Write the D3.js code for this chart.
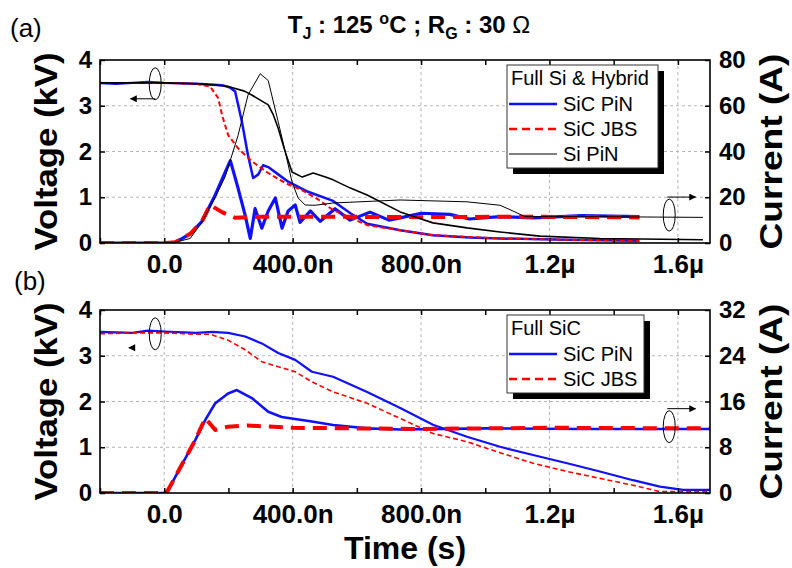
<!DOCTYPE html>
<html>
<head>
<meta charset="utf-8">
<script src="https://cdn.jsdelivr.net/npm/d3@7"></script>
<style>
  body { margin: 0; background: #fff; }
  svg { display: block; }
  text { font-family: "Liberation Sans", Arial, sans-serif; }
</style>
</head>
<body>
<div id="chart"></div>
<script>
// time in ns, voltage in kV, current in A
const timeTicks = [-200, 0, 200, 400, 600, 800, 1000, 1200, 1400, 1600];
const timeLabelValues = [0, 400, 800, 1200, 1600];
const timeLabels = ['0.0', '400.0n', '800.0n', '1.2\u00b5', '1.6\u00b5'];
const voltTicks = [0, 1, 2, 3, 4];
const currTicksA = [0, 20, 40, 60, 80];
const currTicksB = [0, 8, 16, 24, 32];

// (a) Full Si & Hybrid
const aSicPinV = [[-200,3.5],[-150,3.48],[-100,3.5],[-50,3.52],[0,3.5],[100,3.48],[180,3.45],[205,3.4],[221,3.31],[242,2.65],[261,1.92],[277,1.42],[293,1.5],[308,1.7],[324,1.66],[355,1.5],[386,1.34],[448,1.12],[526,0.92],[580,0.65],[632,0.42],[735,0.28],[837,0.17],[950,0.12],[1046,0.1],[1250,0.07],[1480,0.05]];
const aSicPinI = [[-200,0],[0,0],[34,0.3],[44,1],[81,4],[117,9.3],[159,21],[190,31],[206,36],[230,24],[252,12.2],[268,2],[283,15],[304,6.5],[324,14],[346,19.7],[367,6.5],[386,14],[408,16.6],[423,9],[455,14],[486,9.5],[532,15],[579,10],[641,13.5],[700,10],[735,11],[800,13],[890,12.5],[950,10.5],[1046,11.5],[1150,11],[1300,12],[1480,11.5]];
const aSicJbsV = [[-200,3.5],[0,3.5],[100,3.48],[143,3.42],[168,3.17],[180,2.8],[199,2.36],[230,2.07],[274,1.78],[324,1.53],[377,1.31],[430,1.15],[480,0.95],[526,0.72],[632,0.39],[735,0.28],[837,0.17],[1046,0.1],[1250,0.07],[1480,0.05]];
const aSicJbsI = [[-200,0],[0,0],[34,0.3],[81,4],[117,9.3],[143,16.6],[180,13.5],[221,11],[300,11.5],[500,11.5],[800,11.3],[1100,11.5],[1480,11.2]];
const aSiPinV = [[-200,3.5],[0,3.5],[100,3.48],[150,3.46],[199,3.42],[250,3.32],[274,3.23],[324,3.02],[340,2.8],[355,2.51],[377,1.99],[398,1.55],[430,1.44],[464,1.53],[500,1.45],[526,1.38],[580,1.2],[632,1.05],[735,0.68],[837,0.44],[943,0.33],[1046,0.24],[1170,0.15],[1357,0.1],[1678,0.07]];
const aSiPinI = [[-200,0],[0,0],[34,0.3],[81,2],[117,9],[159,20],[190,29],[230,47],[261,64.7],[299,74],[324,71],[355,53],[377,40],[398,26.7],[417,19.7],[439,16.6],[470,16.5],[526,17.5],[735,18.8],[943,18],[1046,16.5],[1086,14],[1124,11.5],[1357,11.5],[1678,11.2]];

// (b) Full SiC
const bSicPinV = [[-200,3.52],[-100,3.5],[-50,3.55],[0,3.53],[100,3.5],[150,3.52],[199,3.5],[252,3.42],[304,3.27],[355,3.06],[408,2.91],[460,2.65],[526,2.54],[632,2.21],[735,1.86],[837,1.49],[943,1.23],[1046,1.01],[1149,0.83],[1255,0.65],[1357,0.47],[1460,0.28],[1544,0.14],[1616,0.07],[1700,0.07]];
const bSicPinI = [[-200,0],[0,0],[10,0.3],[97,9.3],[128,12.8],[159,15.7],[199,17.4],[226,18],[273,16.6],[324,14.2],[366,13.3],[460,12.5],[526,11.9],[632,11.3],[735,11.1],[1000,11.3],[1300,11.2],[1700,11.2]];
const bSicJbsV = [[-200,3.48],[-100,3.5],[0,3.5],[100,3.47],[143,3.47],[199,3.34],[252,3.13],[304,2.87],[355,2.76],[408,2.65],[460,2.43],[526,2.21],[632,1.96],[735,1.63],[837,1.3],[943,1.12],[1046,0.88],[1149,0.65],[1255,0.47],[1357,0.32],[1460,0.17],[1544,0.03],[1700,0.03]];
const bSicJbsI = [[-200,0],[0,0],[10,0.3],[97,9.3],[128,13.1],[159,11],[199,11.6],[260,11.8],[400,11.4],[800,11.2],[1200,11.4],[1700,11.3]];

const blue = '#1010ff', red = '#ff0000';

const svg = d3.select('#chart').append('svg')
    .attr('width', 792)
    .attr('height', 568);

const x = d3.scaleLinear().domain([-200, 1700]).range([100, 710]);

const panels = [
  { id: 'a', top: 60, bottom: 243, iMax: 80, iTicks: currTicksA, iMark: 12.2,
    title: 'Full Si & Hybrid',
    series: [
      { data: aSicPinV, axis: 'v', color: blue, width: 2.5 },
      { data: aSicPinI, axis: 'i', color: blue, width: 3.2 },
      { data: aSicJbsV, axis: 'v', color: red, width: 2, dash: '5,3' },
      { data: aSicJbsI, axis: 'i', color: red, width: 4, dash: '14,8' },
      { data: aSiPinV, axis: 'v', color: '#000', width: 1.6 },
      { data: aSiPinI, axis: 'i', color: '#000', width: 1 }
    ],
    legend: [
      { name: 'SiC PiN', color: blue, width: 2.5 },
      { name: 'SiC JBS', color: red, width: 2.5, dash: '8,5' },
      { name: 'Si PiN', color: '#000', width: 1.2 }
    ] },
  { id: 'b', top: 310, bottom: 493, iMax: 32, iTicks: currTicksB, iMark: 11.6,
    title: 'Full SiC',
    series: [
      { data: bSicPinV, axis: 'v', color: blue, width: 2.2 },
      { data: bSicPinI, axis: 'i', color: blue, width: 2.6 },
      { data: bSicJbsV, axis: 'v', color: red, width: 1.6, dash: '5,3' },
      { data: bSicJbsI, axis: 'i', color: red, width: 4, dash: '14,8' }
    ],
    legend: [
      { name: 'SiC PiN', color: blue, width: 2.5 },
      { name: 'SiC JBS', color: red, width: 2.5, dash: '8,5' }
    ] }
];

svg.append('defs').append('marker')
    .attr('id', 'arr')
    .attr('viewBox', '0 0 10 10')
    .attr('refX', 9).attr('refY', 5)
    .attr('markerWidth', 9).attr('markerHeight', 7)
    .attr('markerUnits', 'userSpaceOnUse')
    .attr('orient', 'auto')
    .append('path').attr('d', 'M0,0L10,5L0,10Z').attr('fill', '#000');

panels.forEach(p => {
  const yV = d3.scaleLinear().domain([0, 4]).range([p.bottom, p.top]);
  const yI = d3.scaleLinear().domain([0, p.iMax]).range([p.bottom, p.top]);
  const g = svg.append('g');

  // grid
  g.selectAll('line.gx').data(timeLabelValues).enter().append('line')
      .attr('x1', d => x(d)).attr('x2', d => x(d))
      .attr('y1', p.top).attr('y2', p.bottom)
      .attr('stroke', '#b4b4b4').attr('stroke-dasharray', '3,3');
  g.selectAll('line.gy').data(voltTicks.slice(1, -1)).enter().append('line')
      .attr('x1', 100).attr('x2', 710)
      .attr('y1', d => yV(d)).attr('y2', d => yV(d))
      .attr('stroke', '#b4b4b4').attr('stroke-dasharray', '3,3');

  // curves
  svg.select('defs').append('clipPath').attr('id', 'clip' + p.id)
      .append('rect').attr('x', 100).attr('y', p.top)
      .attr('width', 610).attr('height', p.bottom - p.top);
  const lineV = d3.line().x(d => x(d[0])).y(d => yV(d[1]));
  const lineI = d3.line().x(d => x(d[0])).y(d => yI(d[1]));
  g.append('g').attr('clip-path', `url(#clip${p.id})`)
    .selectAll('path').data(p.series).enter().append('path')
      .attr('d', s => (s.axis === 'v' ? lineV : lineI)(s.data))
      .attr('fill', 'none')
      .attr('stroke', s => s.color)
      .attr('stroke-width', s => s.width)
      .attr('stroke-dasharray', s => s.dash || null)
      .attr('stroke-linejoin', 'round');

  // frame
  g.append('rect').attr('x', 100).attr('y', p.top)
      .attr('width', 610).attr('height', p.bottom - p.top)
      .attr('fill', 'none').attr('stroke', '#000').attr('stroke-width', 1.6);

  const style = (sel, size) => {
    sel.select('.domain').remove();
    sel.selectAll('.tick line').attr('stroke-width', 1.5);
    sel.attr('font-family', '"Liberation Sans", Arial, sans-serif')
       .attr('font-size', size).attr('font-weight', 'bold');
  };

  g.append('g').attr('transform', `translate(0,${p.bottom})`)
      .call(d3.axisBottom(x).tickValues(timeTicks).tickSize(-5).tickPadding(12)
        .tickFormat(d => { const k = timeLabelValues.indexOf(d); return k < 0 ? '' : timeLabels[k]; }))
      .call(s => style(s, 26));
  g.append('g').attr('transform', `translate(0,${p.top})`)
      .call(d3.axisTop(x).tickValues(timeTicks).tickSize(-5).tickFormat(''))
      .call(s => style(s, 26));
  g.append('g').attr('transform', 'translate(100,0)')
      .call(d3.axisLeft(yV).tickValues(voltTicks).tickSize(-5).tickPadding(8).tickFormat(d3.format('d')))
      .call(s => style(s, 24));
  g.append('g').attr('transform', 'translate(710,0)')
      .call(d3.axisRight(yI).tickValues(p.iTicks).tickSize(-5).tickPadding(9).tickFormat(d3.format('d')))
      .call(s => style(s, 24));

  // axis titles
  const mid = (p.top + p.bottom) / 2;
  g.append('text')
      .attr('transform', `translate(57,${mid}) rotate(-90)`)
      .attr('text-anchor', 'middle')
      .attr('font-size', 31).attr('font-weight', 'bold')
      .attr('textLength', 198).attr('lengthAdjust', 'spacingAndGlyphs')
      .text('Voltage (kV)');
  g.append('text')
      .attr('transform', `translate(782,${mid}) rotate(-90)`)
      .attr('text-anchor', 'middle')
      .attr('font-size', 31).attr('font-weight', 'bold')
      .attr('textLength', 196).attr('lengthAdjust', 'spacingAndGlyphs')
      .text('Current (A)');

  // legend
  const lx = 507, ly = p.top + 5, lw = p.id === 'a' ? 151 : 137;
  const lh = 28 + p.legend.length * 25;
  g.append('rect').attr('x', lx + 6).attr('y', ly + 6).attr('width', lw).attr('height', lh).attr('fill', '#000');
  g.append('rect').attr('x', lx).attr('y', ly).attr('width', lw).attr('height', lh)
      .attr('fill', '#fff').attr('stroke', '#333').attr('stroke-width', 1);
  g.append('text').attr('x', lx + 4).attr('y', ly + 20).attr('font-size', 20).text(p.title);
  const rows = g.selectAll('g.leg').data(p.legend).enter().append('g')
      .attr('transform', (d, i) => `translate(${lx},${ly + 39 + i * 25})`);
  rows.append('line').attr('x1', 2).attr('x2', 50).attr('y1', 0).attr('y2', 0)
      .attr('stroke', d => d.color).attr('stroke-width', d => d.width)
      .attr('stroke-dasharray', d => d.dash || null);
  rows.append('text').attr('x', 56).attr('y', 7).attr('font-size', 20).text(d => d.name);

  // ellipse markers with arrows
  const ex1 = x(-28), ey1 = yV(3.48);
  g.append('ellipse').attr('cx', ex1).attr('cy', ey1).attr('rx', 6).attr('ry', 16)
      .attr('fill', 'none').attr('stroke', '#000').attr('stroke-width', 1);
  if (p.id === 'a') {
    g.append('line').attr('x1', ex1).attr('x2', x(-105)).attr('y1', ey1 + 15).attr('y2', ey1 + 15)
        .attr('stroke', '#000').attr('marker-end', 'url(#arr)');
  } else {
    g.append('line').attr('x1', x(-95)).attr('x2', x(-110)).attr('y1', ey1 + 14).attr('y2', ey1 + 14)
        .attr('stroke', '#000').attr('marker-end', 'url(#arr)');
  }
  const ex2 = x(1573), ey2 = yI(p.iMark);
  g.append('ellipse').attr('cx', ex2).attr('cy', ey2).attr('rx', 6).attr('ry', 16)
      .attr('fill', 'none').attr('stroke', '#000').attr('stroke-width', 1);
  g.append('line').attr('x1', ex2 - 2).attr('x2', x(1655)).attr('y1', ey2 - 18).attr('y2', ey2 - 18)
      .attr('stroke', '#000').attr('marker-end', 'url(#arr)');
});

// panel letters
svg.append('text').attr('x', 10).attr('y', 37).attr('font-size', 26).text('(a)');
svg.append('text').attr('x', 14).attr('y', 290).attr('font-size', 26).text('(b)');

// x title
svg.append('text').attr('x', 405).attr('y', 559).attr('text-anchor', 'middle')
    .attr('font-size', 32).attr('font-weight', 'bold').text('Time (s)');

// main title
const t = svg.append('text').attr('x', 409).attr('y', 33).attr('text-anchor', 'middle')
    .attr('font-size', 24).attr('font-weight', 'bold');
t.append('tspan').text('T');
t.append('tspan').attr('font-size', 16).attr('dy', 6).text('J');
t.append('tspan').attr('dy', -6).text(' : 125 ');
t.append('tspan').attr('font-size', 16).attr('dy', -9).text('o');
t.append('tspan').attr('dy', 9).text('C ; R');
t.append('tspan').attr('font-size', 16).attr('dy', 6).text('G');
t.append('tspan').attr('dy', -6).text(' : 30 ');
t.append('tspan').attr('font-weight', 'normal').text('\u03a9');
</script>
</body>
</html>
